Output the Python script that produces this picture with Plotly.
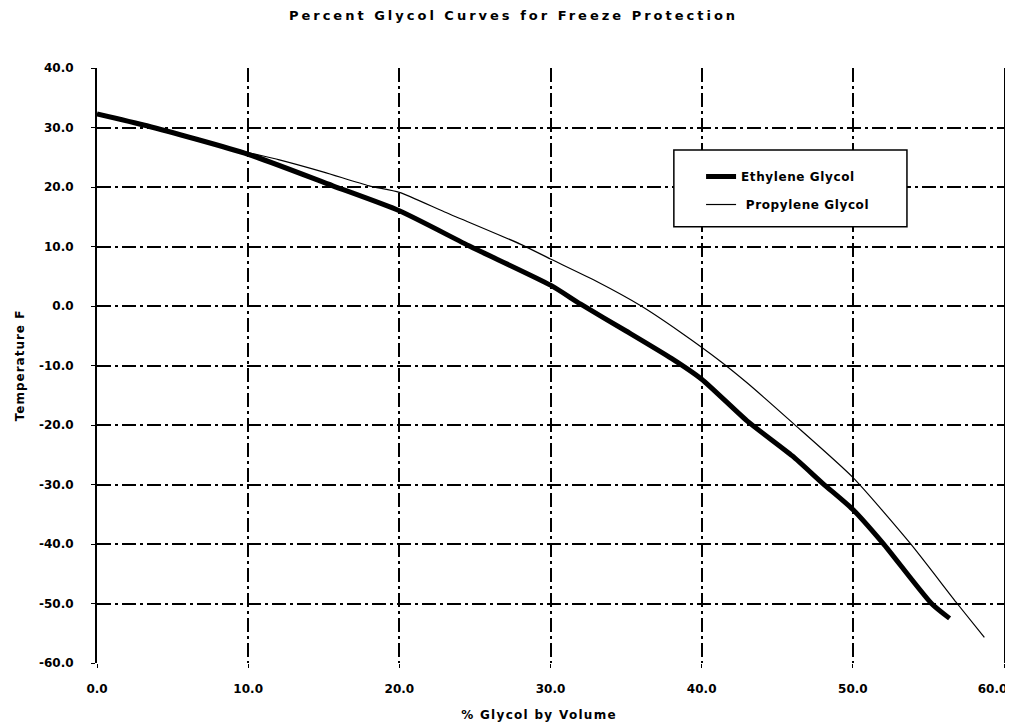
import plotly.graph_objects as go

# Data
eth_x = [0, 3.3, 10, 15.6, 20, 24.7, 30, 32, 35, 38, 40, 43, 46, 48, 50, 52, 55.2, 56.4]
eth_y = [32.3, 30.3, 25.5, 20.2, 16.0, 10.0, 3.5, 0.3, -4.2, -8.8, -12.3, -19.3, -25.2, -29.8, -34.2, -39.9, -50.0, -52.5]

prop_x = [0, 3.3, 10, 12, 15, 18, 20, 23, 28, 30, 33, 36, 38.6, 41.3, 43, 46, 50, 53.8, 56.9, 58.7]
prop_y = [32.3, 30.3, 25.8, 24.6, 22.5, 20.2, 19.1, 15.8, 10.4, 7.9, 4.2, 0.0, -4.4, -9.4, -12.9, -19.6, -28.8, -39.9, -50.0, -55.7]

x_ticks = [0, 10, 20, 30, 40, 50, 60]
x_labels = ["0.0", "10.0", "20.0", "30.0", "40.0", "50.0", "60.0"]
y_ticks = [40, 30, 20, 10, 0, -10, -20, -30, -40, -50, -60]
y_labels = ["40.0", "30.0", "20.0", "10.0", "0.0", "-10.0", "-20.0", "-30.0", "-40.0", "-50.0", "-60.0"]

FONT = "DejaVu Sans"


def spaced(text, ls):
    return f'<span style="letter-spacing:{ls}px"><b>{text}</b></span>'


fig = go.Figure()
fig.add_trace(go.Scatter(x=eth_x, y=eth_y, mode="lines", name=spaced("Ethylene Glycol", 0.6),
                         legendgroup="a",
                         line=dict(color="black", width=5, shape="spline", smoothing=0.6)))
fig.add_trace(go.Scatter(x=prop_x, y=prop_y, mode="lines", name=spaced(" Propylene Glycol", 0.6),
                         legendgroup="b",
                         line=dict(color="black", width=1.2, shape="spline", smoothing=0.6)))

x_ticktext = [f"<b>{t}</b>" for t in x_labels]
x_ticktext[-1] = x_ticktext[-1] + "&nbsp;" * 6

grid_dash = "14px,4px,3px,4px"
fig.update_layout(
    width=1005, height=715,
    paper_bgcolor="white", plot_bgcolor="white",
    margin=dict(l=89, r=9, t=60, b=60, autoexpand=False),
    title=dict(text=spaced("Percent Glycol Curves for Freeze Protection", 3),
               x=0.503, xanchor="center", y=0.990, yanchor="middle",
               font=dict(family=FONT, size=13, color="black")),
    font=dict(family=FONT, color="black"),
    legend=dict(x=0.666, y=0.842, xanchor="left", yanchor="top",
                bgcolor="rgba(0,0,0,0)", borderwidth=0,
                font=dict(family=FONT, size=12, color="black"),
                tracegroupgap=9),
    showlegend=True,
    shapes=[dict(type="rect", xref="paper", yref="paper",
                 x0=0.636, x1=0.893, y0=0.733, y1=0.862,
                 fillcolor="white", line=dict(color="black", width=1.5), layer="above")],
)
fig.update_xaxes(
    range=[0, 60], tickvals=x_ticks, ticktext=x_ticktext,
    tickfont=dict(family=FONT, size=12, color="black"),
    showgrid=True, gridcolor="black", gridwidth=1.5, griddash=grid_dash,
    zeroline=False, showline=False, ticks="outside", ticklen=4, tickcolor="black",
    ticklabelstandoff=11, automargin=False, ticklabeloverflow="allow",
    title=dict(text=spaced("% Glycol by Volume", 1.3) + "&nbsp;" * 6,
               font=dict(family=FONT, size=12, color="black"), standoff=15),
)
fig.update_yaxes(
    range=[-60, 40], tickvals=y_ticks, ticktext=[f"<b>{t}</b>" for t in y_labels],
    tickfont=dict(family=FONT, size=12, color="black"),
    showgrid=True, gridcolor="black", gridwidth=1.5, griddash=grid_dash,
    zeroline=False, showline=True, linecolor="black", linewidth=2, mirror=True,
    ticks="outside", ticklen=4, tickcolor="black",
    ticklabelstandoff=15, automargin=False, ticklabeloverflow="allow",
    title=dict(text=spaced("Temperature F", 1), font=dict(family=FONT, size=12, color="black"), standoff=12),
)

fig.write_html("out.html")
